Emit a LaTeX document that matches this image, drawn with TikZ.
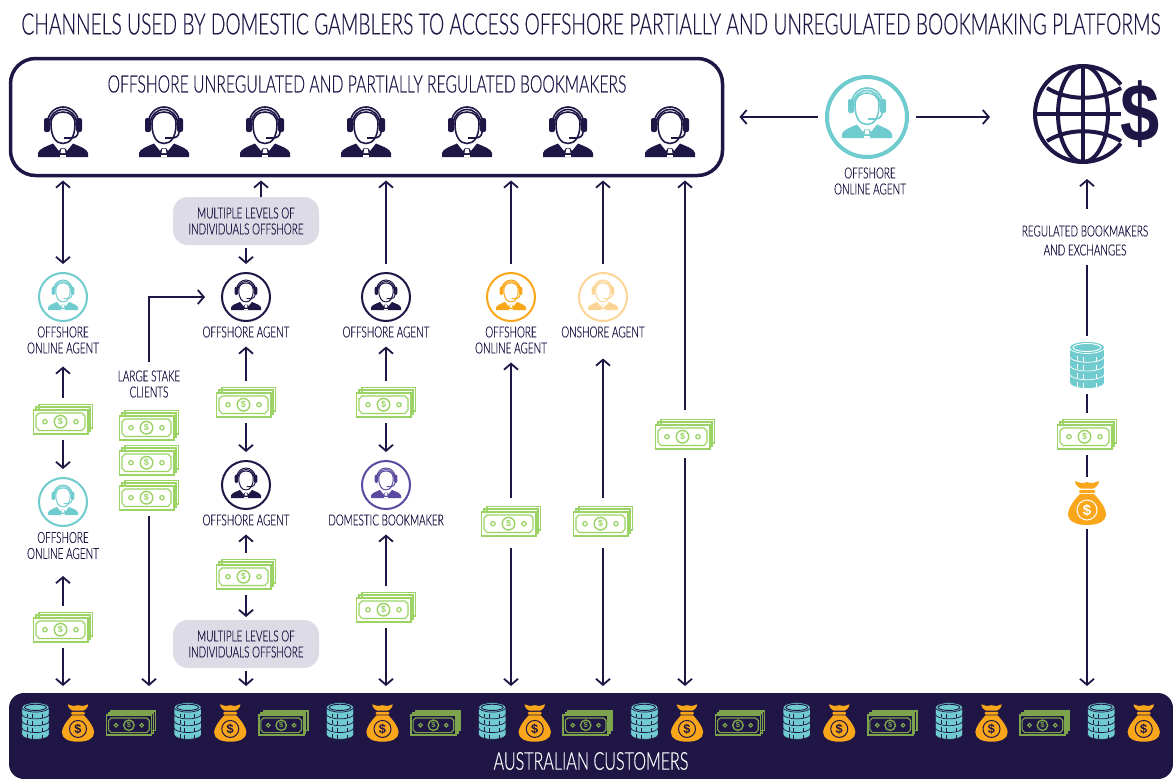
\documentclass[tikz,border=0pt]{standalone}
\usepackage{fontspec}
\setmainfont[FakeStretch=0.655,FakeBold=0.35]{Lato Light}
\newfontfamily\usdfont{Liberation Sans}
\usetikzlibrary{arrows.meta}

\definecolor{ink}{HTML}{1F1646}
\definecolor{tealc}{HTML}{6FCBCD}
\definecolor{leaf}{HTML}{9BD465}
\definecolor{leafdark}{HTML}{7DA44C}
\definecolor{amber}{HTML}{F9A61A}
\definecolor{paleamber}{HTML}{FCD596}
\definecolor{violet}{HTML}{5B4A9F}
\definecolor{mist}{HTML}{DDDCE6}

\tikzset{
	flow/.style={->,draw=ink,line width=1.8pt},
	plainflow/.style={draw=ink,line width=1.8pt},
	tag/.style={text=ink,font=\fontsize{15.2}{16}\selectfont,align=center,inner sep=0pt,outer sep=9pt},
	ring/.style={circle,line width=2pt,minimum size=48pt,inner sep=0pt,outer sep=9pt},
	cashbox/.style={minimum width=59pt,minimum height=42pt,inner sep=0pt,outer sep=0pt},
	levelsbox/.style={fill=mist,rounded corners=15pt,minimum width=146pt,minimum height=48pt,inner sep=0pt,outer sep=3pt,text=ink,font=\fontsize{15.2}{16}\selectfont,align=center},
	pics/agent/.style 2 args={code={
		\fill[#1,rounded corners=2pt] (-19,-14) rectangle (-13,0);
		\fill[#1,rounded corners=2pt] (13,-14) rectangle (19,0);
		\draw[#1,line width=#2pt] (-15.5,-9) arc (180:360:15.5 and 16);
		\draw[#1,line width=#2pt] (-13.5,-9) arc (180:360:13.5 and 13.5);
		\draw[#1,line width=#2pt] (-12,-8) .. controls (-12,5) and (-7,11.5) .. (0,11.5) .. controls (7,11.5) and (12,5) .. (12,-8) .. controls (12,-16) and (7,-20) .. (0,-20) .. controls (-7,-20) and (-12,-16) .. (-12,-8) -- cycle;
		\draw[#1,line width=#2pt] (1,6) -- (8,6) .. controls (12,6) and (15,4) .. (15,0);
		\fill[#1] (-25,25) -- (-25,21) .. controls (-24,17) and (-18,15) .. (-10,11.5) -- (-4,19) -- (-2,16) -- (2,16) -- (4,19) -- (10,11.5) .. controls (18,15) and (24,17) .. (25,21) -- (25,25) -- cycle;
		\fill[white] (-1.5,16.5) -- (1.5,16.5) -- (2.5,21) -- (-2.5,21) -- cycle;
		\fill[white] (-3,22.5) rectangle (3,25);
	}},
	pics/cash/.style 2 args={code={
		\draw[#1,line width=1.6pt] (-24,-9.3) -- (-24,-14.7) -- (29.5,-14.7) -- (29.5,9) -- (24.7,9);
		\draw[#1,line width=1.6pt] (-27,-9.3) -- (-27,-12) -- (27,-12) -- (27,12) -- (24.7,12);
		\draw[#1,fill=#2,line width=1.6pt] (-29.5,-9.3) rectangle (24.7,14.7);
		\draw[#1,line width=1.1pt] (-24,-6) -- (19,-6) -- (22,-3) -- (22,8) -- (19,11.5) -- (-24,11.5) -- (-27,8) -- (-27,-3) -- cycle;
		\draw[#1,line width=1.4pt] (-2.5,2.7) circle (6.3);
		\draw[#1,line width=1.2pt] (-18,2.7) circle (2.2);
		\draw[#1,line width=1.2pt] (13,2.7) circle (2.2);
		\node[transform shape,text=#1,inner sep=0pt,font=\usdfont\bfseries\fontsize{9}{9}\selectfont] at (-2.5,2.7) {\$};
	}},
	pics/coins/.style 2 args={code={
		\foreach \k in {3,2,1,0} {
			\pgfmathsetmacro{\yy}{-17.5+\k*8.75}
			\fill[#1,draw=#2,line width=.7pt] (-17.5,\yy) -- (-17.5,\yy+8.75) arc (180:0:17.5 and 6) -- (17.5,\yy) -- cycle;
			\draw[#2,line width=.7pt] (-10,\yy+8) -- (-10,\yy+13) (-4,\yy+9) -- (-4,\yy+14) (9,\yy+9) -- (9,\yy+14);
		}
		\fill[#1,draw=#2,line width=.7pt] (0,-17.5) ellipse (17.5 and 6);
		\draw[#2,line width=.9pt] (0,-17.5) ellipse (14 and 4);
	}},
	pics/bag/.style 2 args={code={
		\fill[#1] (-12,-22) .. controls (-6,-20) and (-4,-19) .. (0,-21) .. controls (4,-19) and (6,-20) .. (12,-22) .. controls (12,-18) and (8,-15) .. (6,-14.5) -- (-6,-14.5) .. controls (-8,-15) and (-12,-18) .. (-12,-22) -- cycle;
		\fill[#1,rounded corners=1pt] (-8,-13) rectangle (8,-10);
		\fill[#1] (-7,-9) -- (7,-9) .. controls (14,-2) and (19,6) .. (19,11) .. controls (19,19) and (10,22) .. (0,22) .. controls (-10,22) and (-19,19) .. (-19,11) .. controls (-19,6) and (-14,-2) .. (-7,-9) -- cycle;
		\draw[#2,line width=1pt] (0,7) circle (10);
		\node[transform shape,text=#2,inner sep=0pt,font=\usdfont\bfseries\fontsize{15}{15}\selectfont] at (0,7) {\$};
	}},
}

\begin{document}
\begin{tikzpicture}[x=1pt,y=-1pt,>={Straight Barb[length=6pt,width=14pt]}]
	\useasboundingbox (0,0) rectangle (1173,779);

	\node[text=ink,inner sep=0pt,font=\fontsize{29.4}{30}\selectfont] (title) at (591,24) {CHANNELS USED BY DOMESTIC GAMBLERS TO ACCESS OFFSHORE PARTIALLY AND UNREGULATED BOOKMAKING PLATFORMS};

	\node[draw=ink,line width=3.5pt,rounded corners=25pt,minimum width=712pt,minimum height=117pt,inner sep=0pt,outer sep=5pt] (bk) at (366.5,117) {};
	\node[text=ink,inner sep=0pt,font=\fontsize{24}{24}\selectfont] (bktitle) at (367,84) {OFFSHORE UNREGULATED AND PARTIALLY REGULATED BOOKMAKERS};
	\foreach \x in {63,164,265,366,467,568,670} {
		\pic at (\x,132) {agent={ink}{1.6}};
	}

	\node[fill=ink,rounded corners=15pt,minimum width=1164pt,minimum height=86pt,inner sep=0pt,outer sep=7pt] (band) at (591,736) {};
	\node[text=white,inner sep=0pt,font=\fontsize{24.6}{25}\selectfont] (cust) at (591,761) {AUSTRALIAN CUSTOMERS};
	\foreach \i in {0,...,7} {
		\pgfmathsetmacro{\xa}{35.5+\i*152.25}
		\pgfmathsetmacro{\xb}{78+\i*152.25}
		\pic[scale=.78] at (\xa,721) {coins={tealc}{ink}};
		\pic[scale=.85] at (\xb,723) {bag={amber}{ink}};
	}
	\foreach \i in {0,...,6} {
		\pgfmathsetmacro{\xc}{131+\i*152.25}
		\pic[scale=.83] at (\xc,723) {cash={leafdark}{ink}};
	}

	\foreach \n/\x/\y/\c in {oa1/63/297/tealc,oa2/63/502/tealc,a1/246/297/ink,a2/386/297/ink,a3/246/485/ink,dom/386/485/violet,oa3/511/297/amber,on/603/297/paleamber} {
		\node[ring,draw=\c] (\n) at (\x,\y) {};
		\pic[scale=.6] at ([yshift=2pt]\n.center) {agent={\c}{1}};
	}
	\node[ring,draw=tealc,line width=4pt,minimum size=80pt] (bigon) at (867,117) {};
	\pic at ([yshift=4pt]bigon.center) {agent={tealc}{1.6}};

	\foreach \n/\x/\y in {c1/63/419,c2/63/627,c3/149/425,c4/149/460,c5/149/495,c6/246/402,c7/246/574,c8/386/402,c9/386/607,c10/511/521,c11/603/521,c12/685/434,c13/1087/434} {
		\node[cashbox] (\n) at (\x,\y) {};
		\pic at (\n.center) {cash={leaf}{white}};
	}

	\node[tag] (loa1) at (63,340) {OFFSHORE\\ONLINE AGENT};
	\node[tag] (loa2) at (63,545.5) {OFFSHORE\\ONLINE AGENT};
	\node[tag] (llarge) at (149,384) {LARGE STAKE\\CLIENTS};
	\node[tag] (la1) at (246,332) {OFFSHORE AGENT};
	\node[tag] (la2) at (386,332) {OFFSHORE AGENT};
	\node[tag] (la3) at (246,520) {OFFSHORE AGENT};
	\node[tag] (ldom) at (386,520) {DOMESTIC BOOKMAKER};
	\node[tag] (loa3) at (511,340) {OFFSHORE\\ONLINE AGENT};
	\node[tag] (lon) at (603,332) {ONSHORE AGENT};
	\node[tag] (lbig) at (870,181) {OFFSHORE\\ONLINE AGENT};
	\node[tag] (lreg) at (1085,240.5) {REGULATED BOOKMAKERS\\[3pt]AND EXCHANGES};
	\node[levelsbox] (lev1) at (246,221) {MULTIPLE LEVELS OF\\INDIVIDUALS OFFSHORE};
	\node[levelsbox] (lev2) at (246,644) {MULTIPLE LEVELS OF\\INDIVIDUALS OFFSHORE};
	\coordinate (lev1t) at (261,197);

	\node[circle,minimum size=96pt,inner sep=0pt,outer sep=0pt] (globe) at (1083,114) {};
	\draw[ink,line width=4pt] (globe.38) arc (-38:-322:48);
	\draw[ink,line width=4pt] (globe.center) ellipse (25 and 48);
	\draw[ink,line width=4pt] (1083,66) -- (1083,162);
	\draw[ink,line width=4pt] (1036,114) -- (1121,114);
	\draw[ink,line width=4pt] (1047,88) .. controls (1068,101) and (1098,101) .. (1121,88);
	\draw[ink,line width=4pt] (1047,141) .. controls (1068,128) and (1098,128) .. (1121,141);
	\node[xscale=.86,transform shape,text=ink,inner sep=0pt,font=\usdfont\bfseries\fontsize{82}{82}\selectfont] (usd) at (1140,114) {\$};

	\node[minimum width=35pt,minimum height=58pt,inner sep=0pt,outer sep=0pt] (coinsr) at (1087,365) {};
	\pic at (coinsr.center) {coins={tealc}{white}};
	\node[minimum width=38pt,minimum height=52pt,inner sep=0pt,outer sep=0pt] (bagr) at (1087,503) {};
	\pic at (bagr.center) {bag={amber}{white}};

	\draw[flow,<->] (oa1 |- bk.south) -- (oa1);
	\draw[flow,shorten >=4pt] (c1) -- (loa1);
	\draw[flow] (c1) -- (oa2);
	\draw[flow,shorten >=8pt] (c2) -- (loa2);
	\draw[flow] (c2) -- (c2 |- band.north);

	\draw[flow] (llarge.north) |- ([xshift=-8pt]a1.west);
	\draw[flow] (c5) -- (c5 |- band.north);

	\draw[flow] (lev1t) -- (lev1t |- bk.south);
	\draw[flow] (lev1) -- (a1);
	\draw[flow] (c6) -- (la1);
	\draw[flow] (c6) -- (a3);
	\draw[flow] (c7) -- (la3);
	\draw[flow] (c7) -- (lev2);
	\draw[flow] (lev2) -- (lev2 |- band.north);

	\draw[flow] (a2) -- (a2 |- bk.south);
	\draw[flow] (c8) -- (la2);
	\draw[flow] (c8) -- (dom);
	\draw[flow] (c9) -- (ldom);
	\draw[flow] (c9) -- (c9 |- band.north);

	\draw[flow] (oa3) -- (oa3 |- bk.south);
	\draw[flow,shorten <=2pt] (c10) -- (loa3);
	\draw[flow,shorten <=6pt] (c10) -- (c10 |- band.north);

	\draw[flow] (on) -- (on |- bk.south);
	\draw[flow,shorten <=2pt,shorten >=12pt] (c11) -- (lon);
	\draw[flow,shorten <=6pt] (c11) -- (c11 |- band.north);

	\draw[flow,shorten <=3pt] (c12) -- (c12 |- bk.south);
	\draw[flow,shorten <=3pt] (c12) -- (c12 |- band.north);

	\draw[flow,shorten >=12pt] (bigon.west) -- (bigon.west -| bk.east);
	\draw[flow,shorten >=45pt] (bigon.east) -- (bigon.east -| globe.west);

	\draw[flow,shorten <=8pt,shorten >=17pt] (coinsr |- lreg.north) -- (coinsr |- globe.south);
	\draw[plainflow] (coinsr |- lreg.south) -- (coinsr);
	\draw[plainflow] (coinsr) -- (c13);
	\draw[plainflow] (c13) -- (bagr);
	\draw[flow] (bagr) -- (bagr |- band.north);
\end{tikzpicture}
\end{document}
